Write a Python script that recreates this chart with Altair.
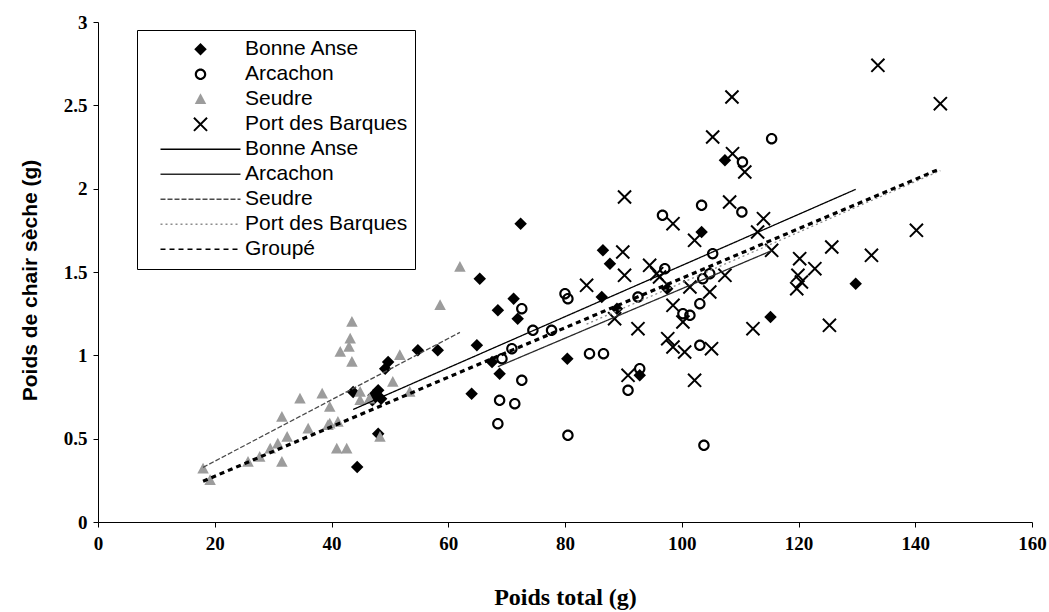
import altair as alt
import pandas as pd

# ---------------- data ----------------
ba_x = [72.4, 65.4, 71.2, 68.5, 71.9, 64.9, 54.8, 58.2, 49.7, 49.2, 68.8, 64.0, 48.0, 47.2, 48.5,
        47.0, 43.7, 48.0, 44.4, 80.4, 86.5, 87.7, 86.3, 88.9, 92.8, 103.4, 107.4, 115.2, 129.8,
        97.5, 67.5]
ba_y = [1.79, 1.46, 1.34, 1.27, 1.22, 1.06, 1.03, 1.03, 0.96, 0.92, 0.89, 0.77, 0.79, 0.76, 0.74,
        0.73, 0.78, 0.53, 0.33, 0.98, 1.63, 1.55, 1.35, 1.28, 0.88, 1.74, 2.17, 1.23, 1.43,
        1.40, 0.96]

ar_x = [103.4, 96.7, 110.3, 105.3, 97.1, 103.6, 92.5, 80.5, 80.0, 100.2, 101.4, 103.1, 104.8,
        84.2, 86.6, 92.8, 90.8, 103.1, 80.5, 103.8, 115.4, 110.4, 72.6, 77.7, 74.5, 70.9, 69.2,
        72.6, 68.8, 71.4, 68.5]
ar_y = [1.90, 1.84, 1.86, 1.61, 1.52, 1.46, 1.35, 1.34, 1.37, 1.25, 1.24, 1.31, 1.49,
        1.01, 1.01, 0.92, 0.79, 1.06, 0.52, 0.46, 2.30, 2.16, 1.28, 1.15, 1.15, 1.04, 0.98,
        0.85, 0.73, 0.71, 0.59]

se_x = [18.0, 19.2, 31.5, 34.6, 38.4, 39.7, 36.0, 32.4, 30.8, 29.5, 27.7, 25.7, 31.5, 39.7, 41.1,
        40.9, 42.6, 43.5, 43.2, 43.0, 41.5, 43.5, 62.0, 58.6, 51.7, 50.5, 44.9, 44.9, 53.4, 48.3,
        46.5, 39.4]
se_y = [0.32, 0.25, 0.63, 0.74, 0.77, 0.69, 0.56, 0.51, 0.47, 0.44, 0.39, 0.36, 0.36, 0.59, 0.60,
        0.44, 0.44, 1.20, 1.10, 1.05, 1.02, 0.96, 1.53, 1.30, 1.00, 0.84, 0.78, 0.73, 0.78, 0.51,
        0.74, 0.58]

pb_x = [133.6, 144.3, 108.6, 105.3, 108.7, 110.8, 90.2, 108.2, 98.5, 114.0, 113.0, 102.2, 115.4,
        120.2, 122.8, 125.7, 89.9, 90.2, 94.5, 95.7, 140.2, 132.5, 83.7, 107.4, 101.4, 104.8, 98.5,
        88.5, 92.5, 100.2, 97.6, 98.5, 100.5, 105.1, 90.8, 102.2, 112.2, 125.3, 119.9, 120.5, 119.7,
        96.2]
pb_y = [2.74, 2.51, 2.55, 2.31, 2.21, 2.10, 1.95, 1.92, 1.79, 1.82, 1.74, 1.69, 1.63,
        1.58, 1.52, 1.65, 1.62, 1.48, 1.54, 1.49, 1.75, 1.60, 1.42, 1.48, 1.41, 1.38, 1.30,
        1.22, 1.16, 1.20, 1.10, 1.05, 1.02, 1.04, 0.88, 0.85, 1.16, 1.18, 1.48, 1.44, 1.40,
        1.47]

# regression lines (end points)
line_names = ["Bonne Anse", "Arcachon", "Seudre", "Port des Barques", "Groupé"]
line_x0 = [43.7, 68.5, 18.0, 83.7, 18.0]
line_y0 = [0.675, 0.932, 0.328, 1.187, 0.245]
line_x1 = [129.8, 115.4, 62.0, 144.3, 144.3]
line_y1 = [1.996, 1.628, 1.138, 2.108, 2.120]

site_names = ["Bonne Anse", "Arcachon", "Seudre", "Port des Barques"]

# ---------------- tables ----------------
keys = ["P|" + s for s in site_names] + ["L|" + s for s in line_names]

rows = []
for name, xs, ys in zip(site_names, [ba_x, ar_x, se_x, pb_x], [ba_y, ar_y, se_y, pb_y]):
    for a, b in zip(xs, ys):
        rows.append({"key": "P|" + name, "x": a, "y": b})
points_df = pd.DataFrame(rows)

lrows = []
for n, a0, b0, a1, b1 in zip(line_names, line_x0, line_y0, line_x1, line_y1):
    lrows.append({"key": "L|" + n, "x": a0, "y": b0})
    lrows.append({"key": "L|" + n, "x": a1, "y": b1})
lines_df = pd.DataFrame(lrows)

# ---------------- marker shapes ----------------
DIAMOND = "M0,-1.25L1.25,0L0,1.25L-1.25,0Z"
RING = ("M1.15,0A1.15,1.15,0,1,1,-1.15,0A1.15,1.15,0,1,1,1.15,0Z"
        "M0.72,0A0.72,0.72,0,1,0,-0.72,0A0.72,0.72,0,1,0,0.72,0Z")
TRI = "M0,-1.2L1.15,0.95L-1.15,0.95Z"
XPOLY = ("M1.45,1.17L1.17,1.45L-1.45,-1.17L-1.17,-1.45Z"
         "M1.45,-1.17L-1.17,1.45L-1.45,1.17L1.17,-1.45Z")
LINE = "M-8,0H8"

shape_range = [DIAMOND, RING, TRI, XPOLY, LINE, LINE, LINE, LINE, LINE]
fill_range = ["#000000", "#000000", "#9c9c9c", "#000000",
              "transparent", "transparent", "transparent", "transparent", "transparent"]
stroke_range = ["transparent", "transparent", "transparent", "transparent",
                "#000000", "#2a2a2a", "#4a4a4a", "#8c8c8c", "#000000"]
dash_range = [[1, 0], [1, 0], [1, 0], [1, 0],
              [1, 0], [1, 0], [5, 2], [2, 3], [5, 4]]

leg = alt.Legend(
    title=None,
    orient="none",
    legendX=39,
    legendY=8,
    labelExpr="split(datum.label, '|')[1]",
    labelFont="Liberation Sans",
    labelFontSize=21,
    labelColor="#000000",
    labelLimit=400,
    symbolSize=100,
    symbolStrokeWidth=1.4,
    symbolOffset=46,
    labelOffset=34,
    clipHeight=24.6,
    rowPadding=0,
    padding=7,
    strokeColor="#000000",
    fillColor="#ffffff",
)

xscale = alt.Scale(domain=[0, 160], nice=False, zero=False)
yscale = alt.Scale(domain=[0, 3], nice=False, zero=False)

xaxis = alt.Axis(
    values=[0, 20, 40, 60, 80, 100, 120, 140, 160],
    title="Poids total (g)",
    titleFont="Liberation Serif", titleFontSize=24, titleFontWeight="bold",
    titleColor="#000000", titleY=75, titleBaseline="middle",
    labelFont="Liberation Serif", labelFontSize=19, labelFontWeight="bold",
    labelColor="#000000", labelPadding=7,
    grid=False, tickSize=5, tickColor="#000000", domainColor="#000000",
    labelFlush=False,
)
yaxis = alt.Axis(
    values=[0, 0.5, 1, 1.5, 2, 2.5, 3],
    format="~g",
    title="Poids de chair sèche (g)",
    titleFont="Liberation Sans", titleFontSize=21, titleFontWeight="bold",
    titleColor="#000000", titleX=-68, titleY=258, titleAngle=-90,
    titleBaseline="middle", titleAlign="center",
    labelFont="Liberation Serif", labelFontSize=19, labelFontWeight="bold",
    labelColor="#000000", labelPadding=6,
    grid=False, tickSize=5, tickColor="#000000", domainColor="#000000",
    labelFlush=False,
)

pts = alt.Chart(points_df).mark_point(filled=True, size=100, opacity=1, strokeWidth=0).encode(
    x=alt.X("x:Q", scale=xscale, axis=xaxis),
    y=alt.Y("y:Q", scale=yscale, axis=yaxis),
    shape=alt.Shape("key:N", scale=alt.Scale(domain=keys, range=shape_range), legend=leg),
    fill=alt.Fill("key:N", scale=alt.Scale(domain=keys, range=fill_range), legend=leg),
)

stroke_enc = alt.Stroke("key:N", scale=alt.Scale(domain=keys, range=stroke_range), legend=leg)
dash_enc = alt.StrokeDash("key:N", scale=alt.Scale(domain=keys, range=dash_range), legend=leg)

thin_lines = alt.Chart(lines_df).transform_filter(
    "datum.key != 'L|Groupé'"
).mark_line(strokeWidth=1.3).encode(
    x=alt.X("x:Q", scale=xscale, axis=xaxis),
    y=alt.Y("y:Q", scale=yscale, axis=yaxis),
    detail="key:N",
    stroke=stroke_enc,
    strokeDash=dash_enc,
)

group_line = alt.Chart(lines_df).transform_filter(
    "datum.key == 'L|Groupé'"
).mark_line(strokeWidth=3.2).encode(
    x=alt.X("x:Q", scale=xscale, axis=xaxis),
    y=alt.Y("y:Q", scale=yscale, axis=yaxis),
    detail="key:N",
    stroke=stroke_enc,
    strokeDash=dash_enc,
)

chart = alt.layer(pts, thin_lines, group_line).properties(
    width=934,
    height=500,
    autosize=alt.AutoSizeParams(type="none"),
    padding={"left": 98, "top": 22, "right": 17, "bottom": 90},
    background="#ffffff",
).configure_view(strokeWidth=0)

chart.save("out.html", embed_options={"renderer": "svg", "actions": False})
